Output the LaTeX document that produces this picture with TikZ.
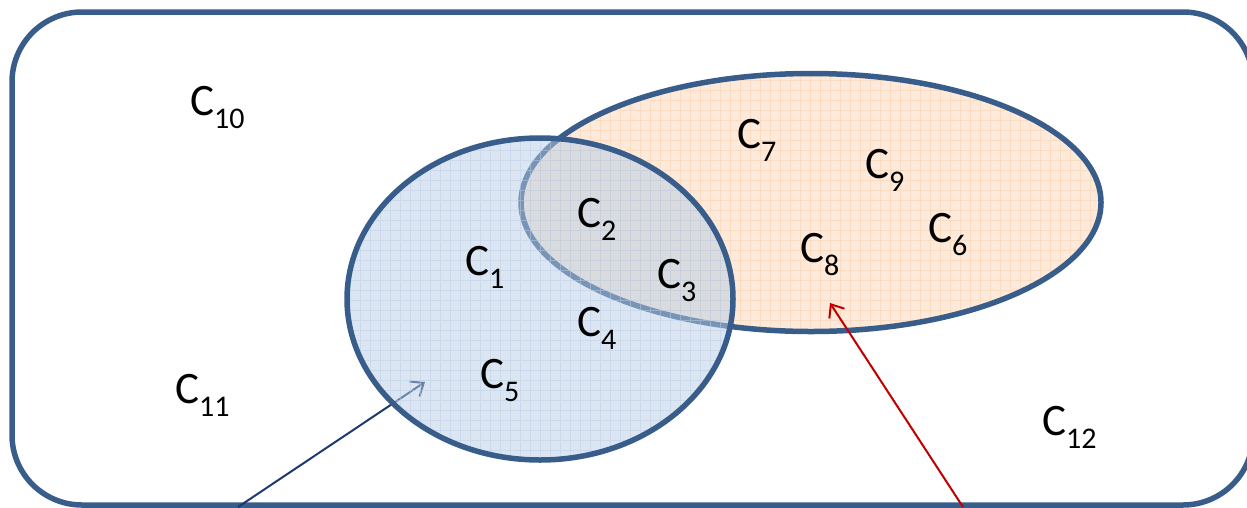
\documentclass[tikz,border=0pt]{standalone}
\usepackage{fontspec}
\setmainfont{Carlito}
\usetikzlibrary{arrows.meta}
\definecolor{bord}{HTML}{385D8A}
\definecolor{bluefill}{HTML}{B9CDE5}
\definecolor{orfill}{HTML}{FDEADA}
\definecolor{orgrid}{HTML}{FBDCC2}
\definecolor{navy}{HTML}{1F3A6E}
\definecolor{darkred}{HTML}{C00000}
\newcommand\csub[1]{\raisebox{-13pt}{\fontsize{30}{30}\selectfont #1}}
\begin{document}
\begin{tikzpicture}[x=1pt,y=-1pt,
  lab/.style={anchor=base west,inner sep=0pt,font=\fontsize{45}{45}\selectfont},
  border/.style={draw=bord,line width=5.5pt},
  pointer/.style={line width=2pt,-{Straight Barb[length=11pt,width=18pt,line width=2pt]}}]
\useasboundingbox (0,0) rectangle (1247,507);
% frame
\draw[border,rounded corners=70pt] (12,12) rectangle (1253,505);
% orange set
\fill[orfill] (811,202.5) ellipse [x radius=290pt, y radius=129pt];
\begin{scope}
  \clip (811,202.5) ellipse [x radius=290pt, y radius=129pt];
  \draw[orgrid,line width=0.8pt,step=10pt] (500,60) grid (1110,340);
\end{scope}
\draw[border] (811,202.5) ellipse [x radius=290pt, y radius=129pt];
% pointers
\coordinate (a1s) at (238,507);
\coordinate (a1e) at (425,382);
\coordinate (a2s) at (963,507);
\coordinate (a2e) at (830,303);
\draw[pointer,navy] (a1s) -- (a1e);
\draw[pointer,darkred] (a2s) -- (a2e);
% blue set
\fill[bluefill,fill opacity=0.5] (540,299) ellipse [x radius=193pt, y radius=161pt];
\begin{scope}
  \clip (540,299) ellipse [x radius=193pt, y radius=161pt];
  \draw[bluefill,opacity=0.5,line width=0.8pt,step=10pt] (340,130) grid (740,470);
\end{scope}
\draw[border] (540,299) ellipse [x radius=193pt, y radius=161pt];
% labels
\node[lab] (c1) at (465,275) {C\csub{1}};
\node[lab] (c2) at (577,227) {C\csub{2}};
\node[lab] (c3) at (657,288) {C\csub{3}};
\node[lab] (c4) at (577,336) {C\csub{4}};
\node[lab] (c5) at (480,388) {C\csub{5}};
\node[lab] (c6) at (928,242) {C\csub{6}};
\node[lab] (c7) at (737,148) {C\csub{7}};
\node[lab] (c8) at (800,262) {C\csub{8}};
\node[lab] (c9) at (865,178) {C\csub{9}};
\node[lab] (c10) at (190,115) {C\csub{10}};
\node[lab] (c11) at (175,403) {C\csub{11}};
\node[lab] (c12) at (1042,435) {C\csub{12}};
\end{tikzpicture}
\end{document}
